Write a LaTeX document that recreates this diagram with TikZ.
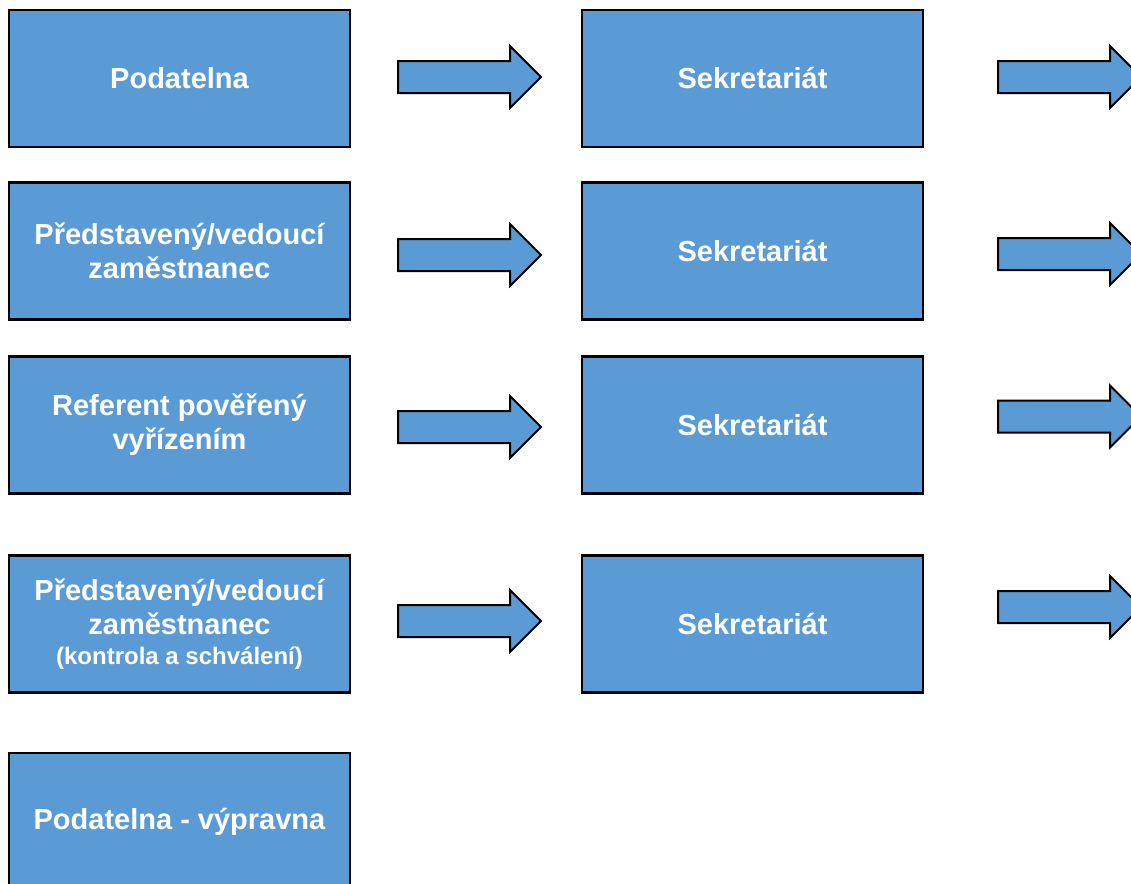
\documentclass[tikz,border=0pt]{standalone}
\usepackage{fontspec}
\setmainfont{Liberation Sans}
\usetikzlibrary{shapes.arrows}
\definecolor{boxblue}{HTML}{5B9BD5}
\tikzset{
    office/.style={draw=black, line width=2.2pt, fill=boxblue, minimum width=341pt, minimum height=137pt,
        inner sep=0pt, align=center, text=white, font=\fontsize{29}{34}\selectfont\bfseries},
    pass/.style={single arrow, draw=black, line width=2pt, fill=boxblue, minimum height=143pt, minimum width=0pt,
        single arrow head extend=15pt, single arrow tip angle=90, inner xsep=0pt, inner ysep=15pt, anchor=tail}
}
\begin{document}
\begin{tikzpicture}[x=1pt, y=-1pt]
            \useasboundingbox (0,0) rectangle (1131,883);
            \node[office] (pod) at (179.5,78.5) {Podatelna};
            \node[office] (ved) at (179.5,251) {Představený/vedoucí\\zaměstnanec};
            \node[office] (ref) at (179.5,425) {Referent pověřený\\vyřízením};
            \node[office] (kon) at (179.5,624) {Představený/vedoucí\\zaměstnanec\\[-4pt]
                {\fontsize{24}{30}\selectfont (kontrola a schválení)}};
            \node[office] (vyp) at (179.5,821.5) {Podatelna - výpravna};
            \foreach \y/\ya/\yb [count=\i] in {78.5/77/77, 251/255/254, 425/427/416.5, 624/621/607}{
                \node[office] (sek\i) at (752.5,\y) {Sekretariát};
                \node[pass] (in\i) at (397,\ya) {};
                \node[pass] (out\i) at (997,\yb) {};
            }
        \end{tikzpicture}
\end{document}
